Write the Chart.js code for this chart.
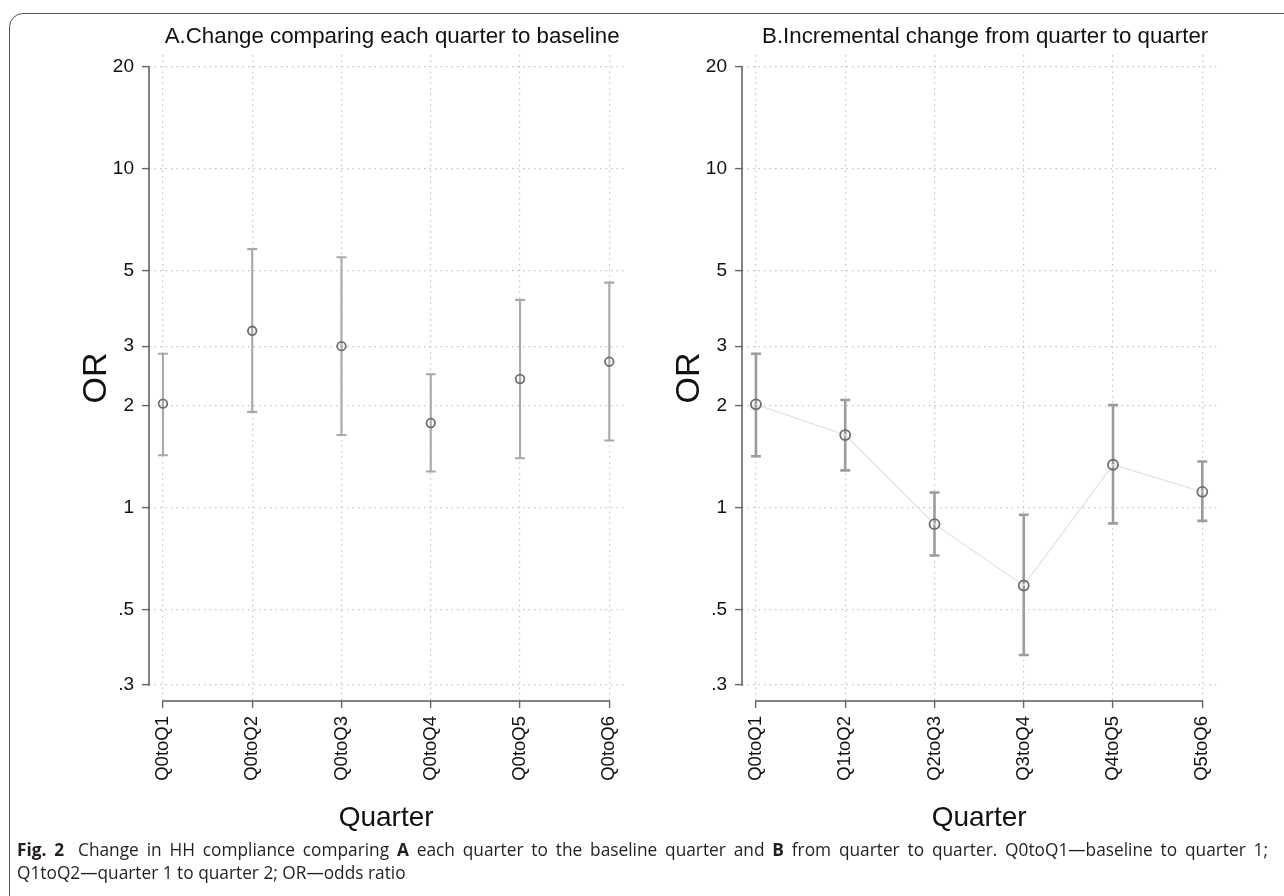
<!DOCTYPE html>
<html>
<head>
<meta charset="utf-8">
<script src="https://cdn.jsdelivr.net/npm/chart.js@4.4.1/dist/chart.umd.min.js"></script>
<style>
html,body{margin:0;padding:0;background:#fff;}
body{width:1284px;height:896px;position:relative;overflow:hidden;}
.frame{position:absolute;left:9px;top:13px;width:1400px;height:900px;border:1.3px solid #555;border-radius:14px;box-sizing:border-box;}
.panel{position:absolute;top:0;width:640px;height:896px;}
#caption{position:absolute;left:17px;top:838px;width:1251px;font-family:'Open Sans',sans-serif;font-size:17.3px;line-height:23px;color:#231f20;}
#caption .l1{text-align:justify;text-align-last:justify;}
#caption .l2{text-align:left;white-space:nowrap;}
#caption b{font-weight:700;}
#caption .fig{margin-right:6px;}
</style>
</head>
<body>
<div class="frame"></div>
<div class="panel" style="left:0px"><canvas id="chartA" width="640" height="896"></canvas></div>
<div class="panel" style="left:593px"><canvas id="chartB" width="640" height="896"></canvas></div>
<div id="caption"><div class="l1"><b class="fig">Fig. 2</b> Change in HH compliance comparing <b>A</b> each quarter to the baseline quarter and <b>B</b> from quarter to quarter. Q0toQ1—baseline to quarter 1;</div><div class="l2">Q1toQ2—quarter 1 to quarter 2; OR—odds ratio</div></div>
<script>
// ---- data ----
const categoriesA = ['Q0toQ1','Q0toQ2','Q0toQ3','Q0toQ4','Q0toQ5','Q0toQ6'];
const orA    = [2.03, 3.33, 3.00, 1.78, 2.40, 2.70];
const lowerA = [1.43, 1.92, 1.64, 1.28, 1.40, 1.58];
const upperA = [2.85, 5.80, 5.49, 2.48, 4.11, 4.62];

const categoriesB = ['Q0toQ1','Q1toQ2','Q2toQ3','Q3toQ4','Q4toQ5','Q5toQ6'];
const orB    = [2.02, 1.64, 0.895, 0.59, 1.34, 1.115];
const lowerB = [1.42, 1.29, 0.723, 0.368, 0.90, 0.915];
const upperB = [2.85, 2.08, 1.11, 0.954, 2.01, 1.37];

const yTickValues = [0.3, 0.5, 1, 2, 3, 5, 10, 20];
const yTickLabels = ['.3', '.5', '1', '2', '3', '5', '10', '20'];

const titleA = 'A.Change comparing each quarter to baseline';
const titleB = 'B.Incremental change from quarter to quarter';

// ---- plugins ----
const FONT = "'Liberation Sans', Arial, sans-serif";

const titleShiftPlugin = {
  id: 'titleShift',
  afterLayout(chart, args, opts) {
    if (chart.titleBlock) {
      chart.titleBlock.left += opts.dx;
      chart.titleBlock.right += opts.dx;
    }
  }
};

const axisLinePlugin = {
  id: 'axisLines',
  beforeDatasetsDraw(chart, args, opts) {
    const {ctx, chartArea, scales: {x, y}} = chart;
    const n = opts.count;
    ctx.save();
    ctx.strokeStyle = opts.color;
    ctx.lineWidth = opts.width;
    ctx.beginPath();
    ctx.moveTo(chartArea.left, y.getPixelForValue(yTickValues[0]) + 0.7);
    ctx.lineTo(chartArea.left, y.getPixelForValue(yTickValues[yTickValues.length - 1]) - 0.7);
    ctx.moveTo(x.getPixelForValue(0) - 0.7, chartArea.bottom);
    ctx.lineTo(x.getPixelForValue(n - 1) + 0.7, chartArea.bottom);
    ctx.stroke();
    ctx.restore();
  }
};

const errorBarPlugin = {
  id: 'errorBars',
  beforeDatasetsDraw(chart, args, opts) {
    const {ctx, scales: {x, y}} = chart;
    ctx.save();
    ctx.strokeStyle = opts.color;
    ctx.lineWidth = opts.width;
    opts.lower.forEach((lo, i) => {
      const px = x.getPixelForValue(i);
      const p1 = y.getPixelForValue(lo);
      const p2 = y.getPixelForValue(opts.upper[i]);
      ctx.beginPath();
      ctx.moveTo(px, p1); ctx.lineTo(px, p2);
      ctx.moveTo(px - opts.cap, p1); ctx.lineTo(px + opts.cap, p1);
      ctx.moveTo(px - opts.cap, p2); ctx.lineTo(px + opts.cap, p2);
      ctx.stroke();
    });
    ctx.restore();
  }
};

function makePanel(id, title, categories, ors, lower, upper, st) {
  const n = categories.length;
  const gridOpts = {color: '#c4c4c4', lineWidth: 1.2, tickColor: '#666', tickLength: 7, tickWidth: 1.4, drawTicks: true};
  return new Chart(document.getElementById(id), {
    type: 'scatter',
    data: {
      datasets: [{
        data: ors.map((v, i) => ({x: i, y: v})),
        showLine: st.showLine,
        borderColor: '#e2e2e2',
        borderWidth: 1.2,
        pointRadius: st.radius,
        pointBorderWidth: 1.8,
        pointBorderColor: '#6e6e6e',
        pointBackgroundColor: 'rgba(0,0,0,0)',
        pointHoverRadius: st.radius
      }]
    },
    plugins: [titleShiftPlugin, axisLinePlugin, errorBarPlugin],
    options: {
      responsive: false,
      animation: false,
      layout: {padding: {left: 0, right: 13, top: 0, bottom: 0}},
      plugins: {
        legend: {display: false},
        tooltip: {enabled: false},
        title: {
          display: true, text: title, fullSize: false,
          font: {family: FONT, size: 22.3, weight: 'normal'}, color: '#111',
          padding: {top: 23.5, bottom: 4.74}
        },
        titleShift: {dx: 6},
        axisLines: {color: '#5a5a5a', width: 1.5, count: n},
        errorBars: {lower: lower, upper: upper, color: st.barColor, width: st.barWidth, cap: 5}
      },
      scales: {
        x: {
          type: 'linear', min: -0.156, max: (n - 1) + 0.156, bounds: 'data',
          afterBuildTicks: s => { s.ticks = categories.map((c, i) => ({value: i})); },
          afterFit: s => { s.height = 195; },
          grid: gridOpts,
          border: {display: false, dash: [1.5, 4]},
          ticks: {
            autoSkip: false, minRotation: 90, maxRotation: 90, padding: 8,
            color: '#111', font: {family: FONT, size: 18.5},
            callback: (v, i) => categories[i]
          },
          title: {display: true, text: 'Quarter', color: '#111', font: {family: FONT, size: 28}, padding: {top: 0, bottom: 61}}
        },
        y: {
          type: 'logarithmic', min: 0.2691, max: 21.70, bounds: 'data',
          afterBuildTicks: s => { s.ticks = yTickValues.map(v => ({value: v})); },
          afterFit: s => { s.width = 149; },
          grid: gridOpts,
          border: {display: false, dash: [1.5, 4]},
          ticks: {
            autoSkip: false, padding: 8, color: '#111', font: {family: FONT, size: 19},
            callback: (v, i) => yTickLabels[i]
          },
          title: {display: true, text: 'OR', color: '#111', font: {family: FONT, size: 34}, padding: {top: 76.6, bottom: 0}}
        }
      }
    }
  });
}

makePanel('chartA', titleA, categoriesA, orA, lowerA, upperA, {showLine: false, radius: 4.3, barColor: '#a9a9a9', barWidth: 2.1});
makePanel('chartB', titleB, categoriesB, orB, lowerB, upperB, {showLine: true, radius: 5, barColor: '#9c9c9c', barWidth: 2.6});
</script>
</body>
</html>
